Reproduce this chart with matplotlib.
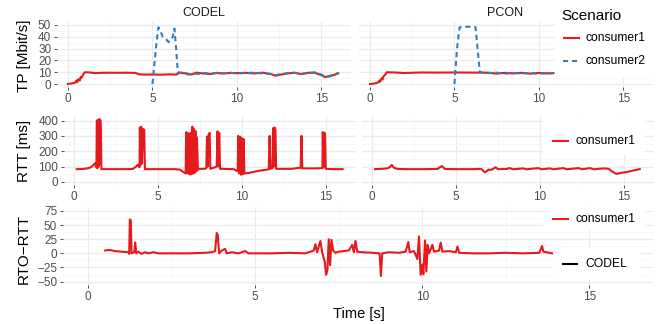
#!/usr/bin/env python3
"""Throughput, RTT and RTO-RTT traces for CODEL vs PCON (ggplot-like facets)."""

import matplotlib

matplotlib.use("Agg")
import matplotlib.pyplot as plt
import numpy as np
from matplotlib.patches import Rectangle

plt.rcParams["font.family"] = ["Liberation Sans", "DejaVu Sans"]

RED = "#E41A1C"
BLUE = "#377EB8"
W, H = 659, 324

# -------------------------
# Data
# -------------------------
tp_codel_c1_t = [0.0, 0.2, 0.4, 0.5, 0.55, 0.6, 0.7, 0.75, 0.8, 0.9, 1.0, 1.3, 1.6, 2.0,
                 2.5, 3.0, 3.5, 4.0, 4.2, 4.5, 5.0, 5.5, 6.0, 6.4, 6.6, 7.0, 7.3, 7.6,
                 8.0, 8.4, 8.8, 9.2, 9.6, 10.0, 10.5, 11.0, 11.5, 12.0, 12.3, 12.6, 13.0,
                 13.4, 13.8, 14.2, 14.6, 15.0, 15.2, 15.5, 15.8, 16.0]
tp_codel_c1_v = [0.0, 0.5, 1.0, 3.0, 1.5, 4.0, 3.0, 6.0, 5.5, 8.0, 10.0, 9.8, 9.2, 9.5,
                 9.6, 9.5, 9.6, 9.4, 8.3, 8.0, 8.1, 7.9, 8.2, 8.0, 9.5, 9.0, 8.0, 9.6,
                 9.0, 8.5, 9.3, 9.0, 9.4, 9.2, 9.5, 9.0, 9.6, 8.5, 7.0, 8.0, 9.0,
                 9.5, 8.5, 9.5, 9.6, 7.5, 6.0, 6.5, 8.0, 9.0]
tp_codel_c2_t = [5.0, 5.2, 5.35, 5.45, 5.6, 5.8, 5.95, 6.1, 6.2, 6.3, 6.4, 6.5, 6.8, 7.1,
                 7.4, 7.7, 8.0, 8.4, 8.8, 9.2, 9.6, 10.0, 10.5, 11.0, 11.5, 12.0, 12.3,
                 12.6, 13.0, 13.4, 13.8, 14.2, 14.6, 15.0, 15.2, 15.5, 15.8, 16.0]
tp_codel_c2_v = [0.0, 30.0, 48.0, 46.0, 40.0, 38.0, 35.5, 37.0, 40.0, 47.0, 30.0, 10.0, 9.5,
                 8.0, 9.0, 8.5, 9.5, 8.8, 9.5, 9.0, 9.6, 9.0, 9.3, 9.6, 9.0, 8.5, 7.5,
                 8.5, 9.2, 9.6, 8.5, 9.3, 9.8, 8.0, 6.5, 7.0, 8.5, 9.5]

tp_pcon_c1_t = [0.0, 0.3, 0.5, 0.55, 0.6, 0.7, 0.75, 0.8, 0.9, 1.0, 1.5, 2.0, 3.0, 4.0,
                5.0, 6.0, 7.0, 7.5, 8.0, 8.5, 9.0, 9.5, 10.0, 10.5, 10.85]
tp_pcon_c1_v = [0.0, 0.5, 1.5, 3.0, 2.0, 5.0, 4.0, 6.5, 8.0, 10.0, 9.8, 9.3, 9.8, 9.7,
                9.8, 9.7, 9.6, 8.8, 9.5, 9.0, 9.5, 8.8, 9.4, 9.0, 9.3]
tp_pcon_c2_t = [5.0, 5.15, 5.3, 5.6, 6.0, 6.25, 6.4, 6.5, 7.0, 7.5, 8.0, 8.5, 9.0, 9.5,
                10.0, 10.5, 10.85]
tp_pcon_c2_v = [0.0, 30.0, 48.0, 48.5, 48.5, 48.0, 25.0, 10.0, 9.3, 9.6, 8.8, 9.5, 9.0,
                9.4, 8.7, 9.3, 9.0]

rtt_codel_t = [0.16, 0.5, 0.8, 1.0, 1.15, 1.25, 1.33, 1.36, 1.38, 1.42, 1.46, 1.50, 1.54,
               1.56, 1.60, 1.63, 2.0, 3.0, 3.5, 3.7, 3.8, 3.9, 3.92, 3.96, 4.0, 4.05, 4.1,
               4.18, 4.22, 5.0, 6.0, 6.3, 6.5, 6.65, 6.68, 6.72, 6.76, 6.8, 6.84, 6.9,
               6.95, 7.0, 7.05, 7.1, 7.15, 7.2, 7.25, 7.3, 7.32, 7.38, 7.5, 7.8, 7.88,
               7.92, 7.96, 8.02, 8.08, 8.12, 8.4, 8.5, 8.55, 8.6, 8.65, 8.7, 9.5, 9.75,
               9.78, 9.84, 9.9, 9.95, 10.0, 10.05, 10.1, 10.15, 10.4, 10.7, 11.0, 11.5,
               11.6, 11.65, 11.7, 11.82, 11.86, 11.9, 11.95, 12.0, 12.04, 13.0, 13.3,
               13.5, 13.55, 13.6, 14.5, 14.8, 14.82, 14.86, 14.9, 14.95, 15.0, 15.5, 16.0]
rtt_codel_v = [83, 84, 88, 95, 110, 122, 95, 400, 90, 405, 100, 410, 120,
               405, 320, 83, 83, 83, 84, 100, 112, 95, 355, 110, 360, 120, 345,
               340, 83, 83, 83, 80, 65, 55, 325, 60, 320, 55, 315, 48,
               320, 50, 360, 55, 345, 60, 330, 70, 290, 80, 85, 85, 90,
               295, 100, 310, 320, 85, 95, 100, 330, 100, 320, 85, 83, 70,
               300, 55, 295, 46, 285, 50, 280, 55, 58, 65, 72, 80,
               83, 300, 85, 90, 350, 100, 355, 340, 85, 85, 90,
               92, 300, 88, 88, 90, 325, 95, 320, 318, 85, 83, 83]

rtt_pcon_t = [0.18, 0.6, 0.9, 1.05, 1.17, 1.3, 1.5, 2.0, 3.0, 3.9, 4.15, 4.35, 5.0, 6.0,
              6.5, 6.73, 6.95, 7.1, 7.36, 7.5, 8.0, 8.2, 8.4, 9.0, 9.2, 9.9, 10.1, 10.6,
              10.8, 11.4, 11.6, 12.3, 12.5, 13.0, 13.2, 13.8, 14.1, 14.3, 14.56, 14.8,
              15.2, 15.6, 15.95]
rtt_pcon_v = [83, 85, 88, 95, 111, 92, 85, 83, 83, 84, 103, 84, 83, 83,
              85, 62, 80, 78, 95, 83, 84, 90, 82, 88, 82, 90, 82, 88,
              82, 90, 82, 90, 82, 90, 82, 88, 85, 68, 52, 58,
              65, 75, 83]

rto_t = [0.51, 0.65, 0.8, 1.0, 1.2, 1.23, 1.25, 1.28, 1.3, 1.38, 1.41, 1.44, 1.5, 1.6,
         1.7, 1.8, 1.95, 2.1, 2.5, 3.0, 3.5, 3.7, 3.8, 3.85, 3.88, 3.92, 4.0, 4.1, 4.15,
         4.3, 4.5, 4.7, 4.8, 5.5, 6.0, 6.5, 6.75, 6.8, 6.85, 6.95, 7.0, 7.08, 7.12, 7.16,
         7.2, 7.24, 7.28, 7.33, 7.4, 7.5, 7.8, 7.9, 7.95, 8.0, 8.05, 8.2, 8.5, 8.72, 8.76,
         8.8, 9.0, 9.3, 9.5, 9.58, 9.62, 9.75, 9.85, 9.9, 9.95, 10.0, 10.03, 10.08, 10.12,
         10.16, 10.2, 10.3, 10.35, 10.5, 10.55, 10.6, 10.8, 11.0, 11.05, 11.1, 11.5, 12.0,
         12.5, 13.0, 13.5, 13.58, 13.62, 13.88]
rto_v = [5, 6, 4, 3, 2, -1, 60, 58, 0, 2, 19, 0, 3, -1,
         2, 0, 2, 0, 0, 0, 1, 2, 4, 36, 33, 0, 5, 8, 0,
         2, 0, 4, 0, 0, 1, 0, 5, 16, 2, 22, 3, -15, -38, -30,
         25, -21, 24, 5, 1, 3, 5, 15, 2, 22, 3, 2, 1, 0, -40,
         0, 2, 1, 3, 20, 2, 4, -10, 30, -38, -20, -37, 23, -32,
         15, 0, 15, 3, 5, 19, 3, 4, 2, 12, 1, 0, 0,
         1, 0, 1, 13, 3, 0]


def px_axes(fig, left, top, right, bottom):
    return fig.add_axes([left / W, 1 - bottom / H, (right - left) / W, (bottom - top) / H])


def style(ax, xlim, ylim, yticks, yminor, show_y=True):
    ax.set_facecolor("white")
    for s in ax.spines.values():
        s.set_visible(False)
    ax.set_xlim(*xlim)
    ax.set_ylim(*ylim)
    ax.set_xticks([0, 5, 10, 15])
    ax.set_xticks([2.5, 7.5, 12.5], minor=True)
    ax.set_yticks(yticks)
    ax.set_yticks(yminor, minor=True)
    ax.grid(True, which="major", color="#EBEBEB", lw=0.9)
    ax.grid(True, which="minor", color="#F4F4F4", lw=0.5)
    ax.set_axisbelow(True)
    ax.tick_params(which="major", length=2.2, width=0.6, color="#333333",
                   labelsize=8.5, labelcolor="#4D4D4D", pad=2)
    ax.tick_params(which="minor", length=0)
    if not show_y:
        ax.tick_params(axis="y", which="major", length=0, labelleft=False)


fig = plt.figure(figsize=(W / 100, H / 100), dpi=100)
lw = 1.5

# Top row: throughput
ax = px_axes(fig, 57, 22, 351, 87)
style(ax, (-0.65, 16.75), (-2.5, 52.5), range(0, 51, 10), range(5, 50, 10))
ax.plot(tp_codel_c1_t, tp_codel_c1_v, color=RED, lw=lw)
ax.plot(tp_codel_c2_t, tp_codel_c2_v, color=BLUE, lw=lw, dashes=(2.5, 1.8))

ax = px_axes(fig, 359, 22, 653, 87)
style(ax, (-0.65, 16.75), (-2.5, 52.5), range(0, 51, 10), range(5, 50, 10), show_y=False)
ax.plot(tp_pcon_c1_t, tp_pcon_c1_v, color=RED, lw=lw)
ax.plot(tp_pcon_c2_t, tp_pcon_c2_v, color=BLUE, lw=lw, dashes=(2.5, 1.8))

# Middle row: RTT
ax = px_axes(fig, 64, 116, 356, 185)
style(ax, (-0.6, 16.8), (-20.5, 430), range(0, 401, 100), range(50, 400, 100))
ax.plot(rtt_codel_t, rtt_codel_v, color=RED, lw=lw)

ax = px_axes(fig, 362, 116, 654, 185)
style(ax, (-0.6, 16.8), (-20.5, 430), range(0, 401, 100), range(50, 400, 100), show_y=False)
ax.plot(rtt_pcon_t, rtt_pcon_v, color=RED, lw=lw)

# Bottom row: RTO - RTT
ax = px_axes(fig, 63, 207, 653, 285)
style(ax, (-0.75, 16.9), (-56, 82), range(-50, 76, 25), np.arange(-37.5, 75, 25))
ax.plot(rto_t, rto_v, color=RED, lw=lw)

# Overlay in pixel coordinates for titles and legends
ov = fig.add_axes([0, 0, 1, 1])
ov.set_xlim(0, W)
ov.set_ylim(H, 0)
ov.axis("off")
ov.set_zorder(10)

ov.text(204, 13, "CODEL", ha="center", va="center", fontsize=9, color="#1A1A1A")
ov.text(505, 13, "PCON", ha="center", va="center", fontsize=9, color="#1A1A1A")
ov.text(24, 56, "TP [Mbit/s]", rotation=90, ha="center", va="center", fontsize=11)
ov.text(24, 151, "RTT [ms]", rotation=90, ha="center", va="center", fontsize=11)
ov.text(24, 249, "RTO\u2212RTT", rotation=90, ha="center", va="center", fontsize=11)
ov.text(359, 314, "Time [s]", ha="center", va="center", fontsize=10.5)

# legend: top
ov.add_patch(Rectangle((555, 0), 104, 77, fc="white", ec="none"))
ov.text(561, 16, "Scenario", ha="left", va="center", fontsize=11)
ov.plot([563, 580], [38, 38], color=RED, lw=lw, solid_capstyle="butt")
ov.text(586, 38, "consumer1", ha="left", va="center", fontsize=8.7)
ov.plot([563, 580], [61, 61], color=BLUE, lw=lw, dashes=(2.5, 1.8))
ov.text(586, 61, "consumer2", ha="left", va="center", fontsize=8.7)

# legend: middle
ov.add_patch(Rectangle((543, 117), 102, 38, fc="white", ec="none"))
ov.plot([552, 569], [141, 141], color=RED, lw=lw, solid_capstyle="butt")
ov.text(575, 141, "consumer1", ha="left", va="center", fontsize=8.7)

# legend: bottom
ov.add_patch(Rectangle((543, 208), 102, 22, fc="white", ec="none"))
ov.plot([552, 569], [219, 219], color=RED, lw=lw, solid_capstyle="butt")
ov.text(575, 219, "consumer1", ha="left", va="center", fontsize=8.7)
ov.add_patch(Rectangle((553, 248), 87, 32, fc="white", ec="none"))
ov.plot([562, 578], [264, 264], color="black", lw=lw, solid_capstyle="butt")
ov.text(585, 264, "CODEL", ha="left", va="center", fontsize=8.7)

fig.savefig("out.png", dpi=100)
